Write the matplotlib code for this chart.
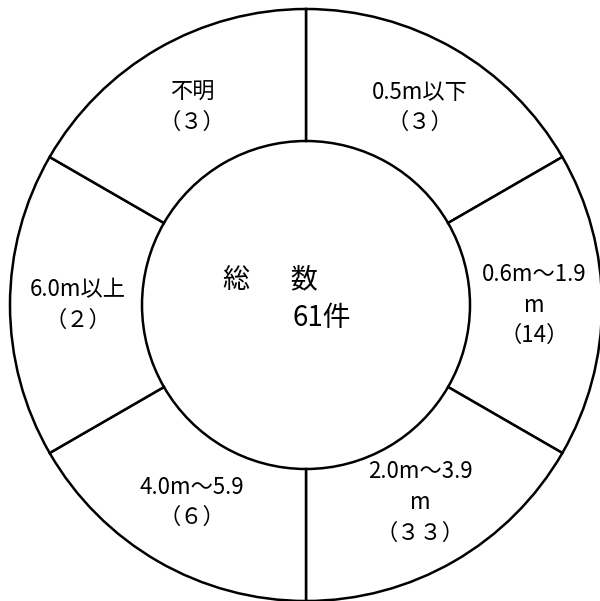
import matplotlib
matplotlib.use('Agg')
import matplotlib.pyplot as plt

plt.rcParams['font.family'] = ['Noto Sans CJK JP', 'DejaVu Sans']

# clockwise from the top
categories = ["0.5m以下", "0.6m～1.9\nm", "2.0m～3.9\nm", "4.0m～5.9", "6.0m以上", "不明"]
counts = [3, 14, 33, 6, 2, 3]
count_labels = ["（３）", "（14）", "（３３）", "（６）", "（２）", "（３）"]
slots = [1, 1, 1, 1, 1, 1]  # the chart draws every class the same size
total = 61

labels = [f"{c}\n{n}" for c, n in zip(categories, count_labels)]

fig = plt.figure(figsize=(6.0, 6.01), dpi=100)
ax = fig.add_axes([0, 0, 1, 1])

cx, cy = 306, 296
r_out, r_in = 296, 164
ax.pie(slots, labels=labels, radius=r_out, center=(cx, cy), startangle=90,
       counterclock=False, labeldistance=228 / r_out,
       wedgeprops=dict(width=r_out - r_in, facecolor='white', edgecolor='black', linewidth=1.8),
       textprops=dict(ha='center', va='center', ma='center', fontsize=16, linespacing=1.42))

ax.text(223, 321, "総\u3000\u2002数", ha='left', va='center', fontsize=19.5,
        family=['Noto Sans CJK JP', 'DejaVu Sans'])
ax.text(293, 283, f"{total}件", ha='left', va='center', fontsize=20)

ax.set_xlim(0, 600)
ax.set_ylim(0, 601)
ax.set_aspect('equal')
ax.axis('off')

fig.savefig("out.png", dpi=100, facecolor='white')
